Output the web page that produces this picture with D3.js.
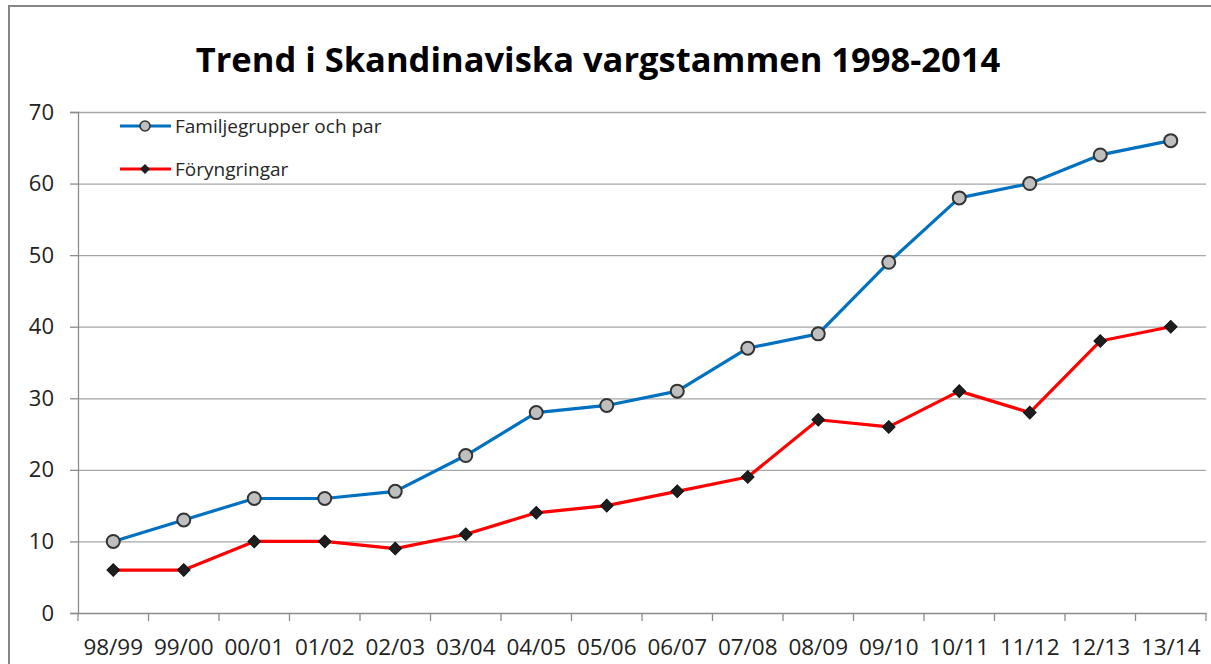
<!DOCTYPE html>
<html><head><meta charset="utf-8">
<script src="https://cdn.jsdelivr.net/npm/d3@7"></script>
<style>body{margin:0;background:#fff}svg{display:block}text{font-family:"Open Sans",sans-serif}</style>
</head><body><svg id="c" width="1211" height="664"></svg>
<script>
const categories = ["98/99","99/00","00/01","01/02","02/03","03/04","04/05","05/06","06/07","07/08","08/09","09/10","10/11","11/12","12/13","13/14"];
const familjegrupper = [10,13,16,16,17,22,28,29,31,37,39,49,58,60,64,66];
const foryngringar = [6,6,10,10,9,11,14,15,17,19,27,26,31,28,38,40];
const yTicks = [0,10,20,30,40,50,60,70];
const seriesNames = ["Familjegrupper och par","Föryngringar"];
const titleText = "Trend i Skandinaviska vargstammen 1998-2014";

const svg = d3.select("#c");
svg.append("rect").attr("x",9).attr("y",6).attr("width",1300).attr("height",800)
  .attr("fill","#fff").attr("stroke","#868686").attr("stroke-width",2);

const L=78,R=1206,T=112,B=613;
const x = d3.scaleBand().domain(categories).range([L,R]);
const y = d3.scaleLinear().domain([0,70]).range([B,T]);

// gridlines
svg.append("g").selectAll("line").data(yTicks.filter(d=>d>0)).join("line")
  .attr("x1",L).attr("x2",R).attr("y1",d=>y(d)+0.5).attr("y2",d=>y(d)+0.5)
  .attr("stroke","#a6a6a6").attr("stroke-width",1.3);

const ya = svg.append("g").attr("transform",`translate(${L},0)`)
  .call(d3.axisLeft(y).tickValues(yTicks).tickSize(8).tickPadding(16));
ya.select(".domain").attr("stroke","#8c8c8c").attr("stroke-width",1.3);
ya.selectAll(".tick line").attr("stroke","#8c8c8c").attr("stroke-width",1.3);
ya.selectAll("text").attr("font-size",22).attr("fill","#222").style("font-family","Open Sans");

const xa = svg.append("g").attr("transform",`translate(0,${B})`)
  .call(d3.axisBottom(x).tickSize(0).tickPadding(26));
xa.select(".domain").attr("stroke","#8c8c8c").attr("stroke-width",1.3);
xa.selectAll("text").attr("font-size",22.5).attr("fill","#222").style("font-family","Open Sans");
// tick marks at band boundaries
const bounds = categories.map(c=>x(c)).concat([R]);
svg.append("g").selectAll("line").data(bounds).join("line")
  .attr("x1",d=>d).attr("x2",d=>d).attr("y1",B).attr("y2",B+8)
  .attr("stroke","#8c8c8c").attr("stroke-width",1.3);

const cx = c=>x(c)+x.bandwidth()/2;
const line = d3.line().x((d,i)=>cx(categories[i])).y(d=>y(d));

svg.append("path").datum(familjegrupper).attr("d",line).attr("fill","none")
  .attr("stroke","#0070c0").attr("stroke-width",3.2).attr("stroke-linejoin","round");
svg.append("path").datum(foryngringar).attr("d",line).attr("fill","none")
  .attr("stroke","#ff0000").attr("stroke-width",3.2).attr("stroke-linejoin","round");

const diamond = d3.symbol().type(d3.symbolSquare).size(80);
svg.append("g").selectAll("circle").data(familjegrupper).join("circle")
  .attr("cx",(d,i)=>cx(categories[i])).attr("cy",d=>y(d)).attr("r",6.5)
  .attr("fill","#bfbfbf").attr("stroke","#333").attr("stroke-width",2);
svg.append("g").selectAll("path").data(foryngringar).join("path")
  .attr("d",diamond).attr("transform",(d,i)=>`translate(${cx(categories[i])},${y(d)}) rotate(45)`)
  .attr("fill","#1e1e1e").attr("stroke","#111").attr("stroke-width",1);

// legend
const lg = svg.append("g");
const rows=[{n:seriesNames[0],c:"#0070c0",y:126,m:"c"},{n:seriesNames[1],c:"#ff0000",y:169,m:"d"}];
rows.forEach(r=>{
  lg.append("line").attr("x1",120).attr("x2",171).attr("y1",r.y).attr("y2",r.y).attr("stroke",r.c).attr("stroke-width",3.2);
  if(r.m==="c") lg.append("circle").attr("cx",145).attr("cy",r.y).attr("r",5).attr("fill","#bfbfbf").attr("stroke","#333").attr("stroke-width",1.6);
  else lg.append("path").attr("d",d3.symbol().type(d3.symbolSquare).size(50)).attr("transform",`translate(145,${r.y}) rotate(45)`).attr("fill","#1e1e1e");
  lg.append("text").attr("x",175).attr("y",r.y).attr("dy","0.35em").attr("font-size",19).attr("fill","#262626").text(r.n);
});

svg.append("text").attr("x",598).attr("y",72).attr("text-anchor","middle")
  .attr("font-size",34.5).attr("font-weight","bold").attr("fill","#000").text(titleText);
</script></body></html>
